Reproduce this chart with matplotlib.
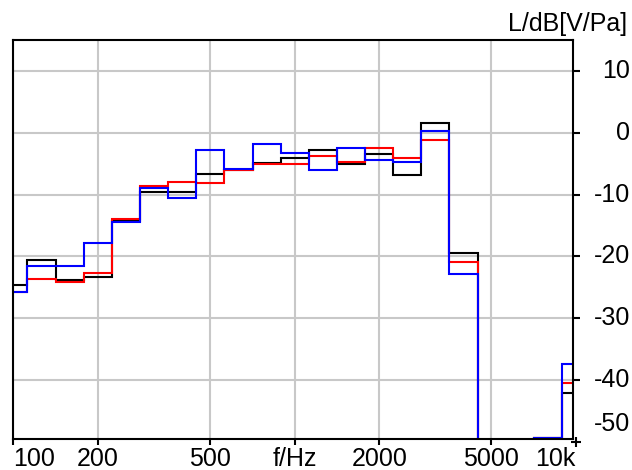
import numpy as np
import matplotlib
matplotlib.use('Agg')
import matplotlib.pyplot as plt
from matplotlib.transforms import offset_copy

plt.rcParams['font.family'] = ['Liberation Sans', 'DejaVu Sans']

# Terzband-Mittenfrequenzen (Hz)
centers = [100, 125, 160, 200, 250, 315, 400, 500, 630, 800, 1000,
           1250, 1600, 2000, 2500, 3150, 4000, 5000, 6300, 8000, 10000]

# Pegel je Band in dB re 1 V/Pa (-100 = unterhalb des Messbereichs)
level_black = [-24.6, -20.6, -23.8, -23.3, -14.2, -9.6, -9.5, -6.6, -6.0, -4.9, -4.1,
               -2.8, -5.1, -3.4, -6.8, 1.6, -19.5, -100, -100, -49.3, -42.0]
level_red = [-25.7, -23.6, -24.2, -22.6, -14.0, -8.6, -7.9, -8.2, -6.0, -5.1, -5.1,
             -3.8, -4.8, -2.4, -4.1, -1.1, -20.9, -100, -100, -49.3, -40.4]
level_blue = [-25.7, -21.6, -21.5, -17.8, -14.4, -9.0, -10.6, -2.8, -5.8, -1.8, -3.2,
              -6.1, -2.4, -4.4, -4.8, 0.3, -22.8, -100, -100, -49.3, -37.3]

xticks = [100, 200, 500, 1000, 2000, 5000]
xtick_labels = ['100', '200', '500', 'f/Hz', '2000', '5000']
yticks = [10, 0, -10, -20, -30, -40]

# Bandgrenzen: Normzahlen 10^((n +- 0.5)/10)
n = np.round(10 * np.log10(centers))
edges = 10 ** (np.append(n - 0.5, n[-1] + 0.5) / 10)

fig = plt.figure(figsize=(6.32, 4.70), dpi=100)
ax = fig.add_axes([0.0201, 0.066, 0.8866, 0.849])

for vals, col in [(level_black, 'black'), (level_red, '#ff0000'), (level_blue, '#0000ff')]:
    ax.stairs(vals, edges, baseline=None, color=col, linewidth=1.5)

ax.set_xscale('log')
ax.set_xlim(99.5, 9750)
ax.set_ylim(-49.5, 15.0)

ax.set_xticks(xticks)
ax.set_xticklabels(xtick_labels)
ax.xaxis.set_minor_locator(matplotlib.ticker.NullLocator())
ax.set_yticks(yticks)
ax.set_yticklabels([])
ax.yaxis.tick_right()

ax.grid(True, color='#c8c8c8', linewidth=1.5)
ax.set_axisbelow(True)
for sp in ax.spines.values():
    sp.set_linewidth(1.5)

ax.tick_params(axis='x', direction='out', length=4, width=1.5, pad=1.5, labelsize=18)
ax.tick_params(axis='y', direction='out', length=5, width=1.5, right=True, left=False)
ax.get_xticklabels()[0].set_ha('left')

# Achsbeschriftung rechts, rechtsbündig
ytr = ax.get_yaxis_transform()
for v in yticks:
    ax.text(1.1017, v, f'{v}', transform=ytr, ha='right', va='center', fontsize=18)
ax.text(1.1017, -47.1, '-50', transform=ytr, ha='right', va='center', fontsize=18)

# 10k am rechten Rand, auf Höhe der übrigen Frequenzbeschriftung
tr10k = offset_copy(ax.transAxes, fig=fig, x=0, y=-5.5, units='points')
ax.text(1.005, 0, '10k', transform=tr10k, ha='right', va='top', fontsize=18)
ax.plot([10000], [-50], marker='+', ms=7, mew=1.5, color='black', clip_on=False)

fig.text(627 / 632, 1 - 24 / 470, 'L/dB[V/Pa]', ha='right', va='center', fontsize=18)

fig.savefig('out.png', dpi=100)
